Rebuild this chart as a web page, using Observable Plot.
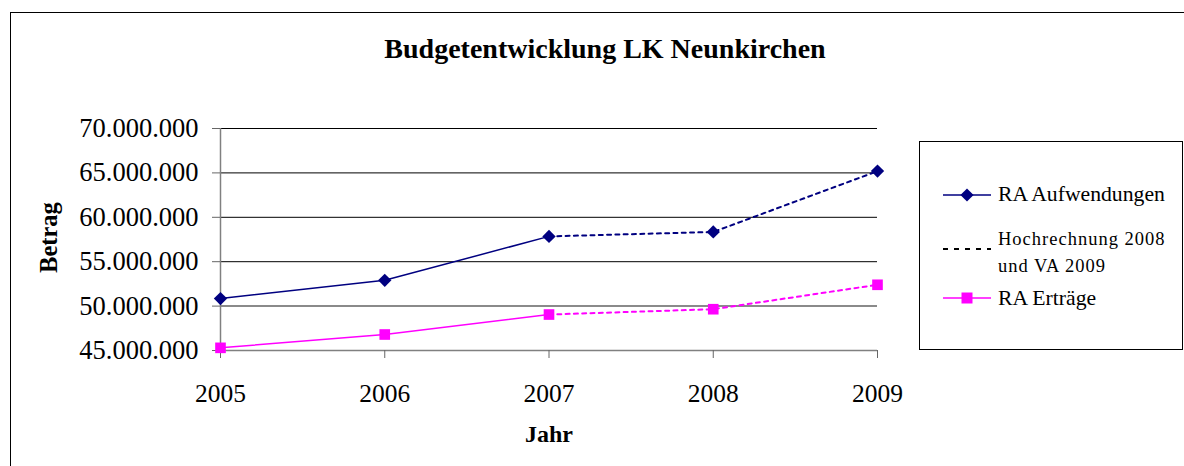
<!DOCTYPE html>
<html><head><meta charset="utf-8">
<script src="https://cdn.jsdelivr.net/npm/d3@7"></script>
<script src="https://cdn.jsdelivr.net/npm/@observablehq/plot@0.6"></script>
<style>body{margin:0;background:#fff} svg{display:block}</style>
</head><body><div id="chart"></div>
<script>
// ---- data ----
const years = [2005, 2006, 2007, 2008, 2009];
const aufwendungen = [50.85e6, 52.9e6, 57.85e6, 58.35e6, 65.2e6];
const ertraege = [45.3e6, 46.8e6, 49.05e6, 49.65e6, 52.4e6];
const lastActualYear = 2007;
const yTicks = [45e6, 50e6, 55e6, 60e6, 65e6, 70e6];
const seriesNames = ["RA Aufwendungen", "RA Erträge"];
const seriesColors = ["#000080", "#FF00FF"];
const seriesSymbols = ["diamond2", "square"];
const legendLabels = ["RA Aufwendungen", ["Hochrechnung 2008", "und VA 2009"], "RA Erträge"];
const titleText = "Budgetentwicklung LK Neunkirchen";
const xLabel = "Jahr";
const yLabel = "Betrag";

const de = d3.formatLocale({decimal: ",", thousands: ".", grouping: [3], currency: ["", "€"]});
const fmt = de.format(",");

const rows = [];
[aufwendungen, ertraege].forEach((vals, i) =>
  years.forEach((y, j) => rows.push({year: y, value: vals[j], series: seriesNames[i]})));
const solid = rows.filter(d => d.year <= lastActualYear);
const dashed = rows.filter(d => d.year >= lastActualYear);

const W = 1184, H = 466;
const serif = "'Liberation Serif', 'Times New Roman', serif";

const svg = Plot.plot({
  width: W, height: H,
  marginLeft: 220, marginRight: 307, marginTop: 128, marginBottom: 116,
  style: {fontFamily: serif, fontSize: "25px", background: "#fff", color: "#000", overflow: "visible"},
  x: {domain: [2005, 2009]},
  y: {domain: [45e6, 70e6]},
  color: {domain: seriesNames, range: seriesColors},
  symbol: {domain: seriesNames, range: seriesSymbols},
  marks: [
    Plot.ruleY(yTicks.filter(t => t > 50e6), {stroke: "#000", strokeWidth: 1}),
    Plot.ruleY([50e6], {stroke: "#8a8a8a", strokeWidth: 2}),
    Plot.ruleY([45e6], {stroke: "#808080", strokeWidth: 1.5}),
    Plot.ruleX([2005], {stroke: "#808080", strokeWidth: 1.5}),
    Plot.axisY({ticks: yTicks, tickSize: 8, tickPadding: 14, tickFormat: fmt, label: null, stroke: "#666", fontSize: 26.5}),
    Plot.axisX({ticks: years, tickSize: 8, tickPadding: 25, tickFormat: d => String(d), label: null, stroke: "#666", fontSize: 25.5}),
    Plot.line(solid, {x: "year", y: "value", z: "series", stroke: "series", strokeWidth: 1.5}),
    Plot.line(dashed, {x: "year", y: "value", z: "series", stroke: "series", strokeWidth: 2, strokeDasharray: "4,4.3"}),
    Plot.dot(rows, {x: "year", y: "value", fill: "series", symbol: "series", r: 6, stroke: "none"})
  ]
});

const s = d3.select(svg);
// outer border
s.append("rect").attr("x", 10.5).attr("y", 12.5).attr("width", 1400).attr("height", 700)
  .attr("fill", "none").attr("stroke", "#000").attr("stroke-width", 1);
// title
s.append("text").text(titleText).attr("x", 605).attr("y", 58).attr("text-anchor", "middle")
  .attr("font-family", serif).attr("font-size", 28).attr("font-weight", "bold");
// axis titles
s.append("text").text(xLabel).attr("x", 549).attr("y", 442).attr("text-anchor", "middle")
  .attr("font-family", serif).attr("font-size", 24).attr("font-weight", "bold");
s.append("text").text(yLabel).attr("transform", "translate(57,237.5) rotate(-90)").attr("text-anchor", "middle")
  .attr("font-family", serif).attr("font-size", 24.5).attr("font-weight", "bold");
// legend
s.append("rect").attr("x", 919.5).attr("y", 141.5).attr("width", 263).attr("height", 208)
  .attr("fill", "#fff").attr("stroke", "#000").attr("stroke-width", 1);
const lg = s.append("g").attr("text-anchor", "start");
function legendLine(y, color, dash, width) {
  lg.append("line").attr("x1", 943).attr("x2", 991).attr("y1", y).attr("y2", y)
    .attr("stroke", color).attr("stroke-width", width).attr("stroke-dasharray", dash);
}
legendLine(195, seriesColors[0], null, 1.5);
lg.append("path").attr("d", d3.symbol(d3.symbolDiamond2, 110)()).attr("transform", "translate(967,195)").attr("fill", seriesColors[0]);
lg.append("text").text(legendLabels[0]).attr("x", 998).attr("y", 201).attr("text-anchor", "start").attr("font-family", serif).attr("font-size", 21.7);
legendLine(249, "#000", "5,6", 2);
legendLabels[1].forEach((t, i) => lg.append("text").text(t).attr("x", 998).attr("y", 245 + i * 26.7).attr("text-anchor", "start")
  .attr("font-family", serif).attr("font-size", 18.5).attr("letter-spacing", 1));
legendLine(298, seriesColors[1], null, 1.5);
lg.append("path").attr("d", d3.symbol(d3.symbolSquare, 121)()).attr("transform", "translate(967,298)").attr("fill", seriesColors[1]);
lg.append("text").text(legendLabels[2]).attr("x", 998).attr("y", 305).attr("text-anchor", "start").attr("font-family", serif).attr("font-size", 21.7);

document.getElementById("chart").appendChild(svg);
</script>
</body></html>
